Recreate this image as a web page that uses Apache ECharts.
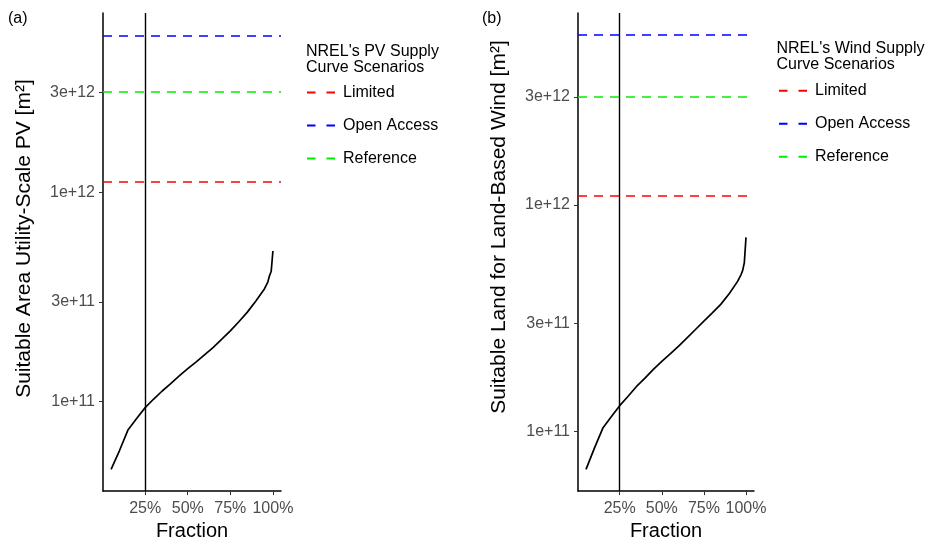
<!DOCTYPE html>
<html><head><meta charset="utf-8">
<script src="https://cdn.jsdelivr.net/npm/echarts@6/dist/echarts.min.js"></script>
<style>html,body{margin:0;padding:0;background:#fff}#c{width:936px;height:546px}</style>
</head><body><div id="c"></div>
<script>
// ---- data ----
const fractions = [0.05,0.10,0.15,0.20,0.25,0.30,0.35,0.40,0.45,0.50,0.55,0.60,0.65,0.70,0.75,0.80,0.85,0.90,0.95,0.97,0.98,0.99,1.00];
const pvArea = [4.75e10,5.86e10,7.35e10,8.32e10,9.37e10,1.03e11,1.125e11,1.22e11,1.33e11,1.44e11,1.55e11,1.68e11,1.82e11,1.99e11,2.18e11,2.41e11,2.68e11,3.03e11,3.46e11,3.73e11,4.0e11,4.2e11,5.25e11];
const windArea = [6.8e10,8.44e10,1.035e11,1.16e11,1.30e11,1.43e11,1.58e11,1.72e11,1.88e11,2.04e11,2.20e11,2.38e11,2.59e11,2.82e11,3.07e11,3.34e11,3.64e11,4.06e11,4.60e11,4.92e11,5.13e11,5.56e11,7.2e11];
const scenarioNames = ['Limited','Open Access','Reference'];
const pvScenarios = [1.115e12, 5.67e12, 3.0e12];
const windScenarios = [1.106e12, 5.65e12, 3.0e12];
const markerFraction = 0.25;
const xTickValues = [0.25, 0.5, 0.75, 1.0];
const yTickValues = [1e11, 3e11, 1e12, 3e12];
const panelLabels = ['(a)', '(b)'];
const yTitles = ['Suitable Area Utility-Scale PV [m²]', 'Suitable Land for Land-Based Wind [m²]'];
const legendTitles = ["NREL's PV Supply\nCurve Scenarios", "NREL's Wind Supply\nCurve Scenarios"];
const xTitle = 'Fraction';

// ---- helpers ----
const L = v => Math.log10(v);
function expand(lo, hi){ const r = hi - lo; return [lo - 0.05*r, hi + 0.05*r]; }
const scenarioColors = ['#ff0000', '#0000ff', '#00ee00'];
const dash = [9, 7];
const font = "'Liberation Sans', Arial, sans-serif";

const panels = [
  {vals: pvArea, sc: pvScenarios, grid:{left:103, top:13, width:178, height:484}, yPad:27,
   legend:{left:306, top:84.5}, ltitle:{left:306, top:43.7}, label:{left:8, top:11}},
  {vals: windArea, sc: windScenarios, grid:{left:578, top:13, width:176, height:484}, yPad:50,
   legend:{left:778, top:82.7}, ltitle:{left:776.5, top:40.3}, label:{left:482, top:11}}
];

const option = {
  animation: false,
  textStyle: {fontFamily: font},
  grid: [], xAxis: [], yAxis: [], series: [], legend: [], title: []
};

panels.forEach((p, i) => {
  const allLog = p.vals.map(L).concat(p.sc.map(L));
  const yr = expand(Math.min(...allLog), Math.max(...allLog));
  const xr = expand(Math.min(...fractions), Math.max(...fractions));
  option.grid.push(Object.assign({containLabel:false}, p.grid));
  option.xAxis.push({
    type:'value', gridIndex:i, min:xr[0], max:xr[1],
    name:xTitle, nameLocation:'middle', nameGap:28,
    nameTextStyle:{fontSize:20, color:'#000'},
    axisLine:{show:true, onZero:false, lineStyle:{color:'#000', width:1.5}},
    axisTick:{show:true, length:4, lineStyle:{color:'#333', width:1}, customValues:xTickValues},
    axisLabel:{customValues:xTickValues, formatter:v => Math.round(v*100)+'%', color:'#4d4d4d', fontSize:16, margin:9},
    splitLine:{show:false}
  });
  const yT = yTickValues.map(L);
  option.yAxis.push({
    type:'value', gridIndex:i, min:yr[0], max:yr[1],
    name:yTitles[i], nameLocation:'middle', nameGap:68, nameRotate:90,
    nameTextStyle:{fontSize:21, color:'#000', padding:[0,0,0,p.yPad]},
    axisLine:{show:true, onZero:false, lineStyle:{color:'#000', width:1.5}},
    axisTick:{show:true, length:4, lineStyle:{color:'#333', width:1}, customValues:yT},
    axisLabel:{customValues:yT, formatter:v => Math.pow(10, v).toExponential(0), color:'#4d4d4d', fontSize:16, margin:8},
    splitLine:{show:false}
  });
  option.series.push({
    type:'line', xAxisIndex:i, yAxisIndex:i, silent:true, z:3,
    data: fractions.map((f, k) => [f, L(p.vals[k])]),
    symbol:'none', itemStyle:{color:'#000'}, lineStyle:{color:'#000', width:1.7},
    markLine:{silent:true, symbol:'none', label:{show:false}, animation:false,
      lineStyle:{color:'#000', width:1.4, type:'solid'},
      data:[{xAxis: markerFraction}]}
  });
  scenarioNames.forEach((nm, k) => {
    option.series.push({
      type:'line', name:nm, xAxisIndex:i, yAxisIndex:i, data:[], symbol:'none', silent:true,
      itemStyle:{color:scenarioColors[k]},
      lineStyle:{color:scenarioColors[k], width:1.6, type:dash},
      markLine:{silent:true, symbol:'none', label:{show:false}, animation:false,
        lineStyle:{color:scenarioColors[k], width:1.6, type:dash},
        data:[{yAxis: L(p.sc[k])}]}
    });
  });
  option.legend.push({
    left:p.legend.left, top:p.legend.top, orient:'vertical', padding:0,
    itemWidth:28, itemHeight:16, itemGap:17, selectedMode:false,
    data:scenarioNames, lineStyle:{type:[8.5, 11]},
    itemStyle:{opacity:0, borderWidth:0},
    textStyle:{fontSize:16, color:'#000', lineHeight:16, padding:[0,0,0,3]}
  });
  option.title.push({text:panelLabels[i], left:p.label.left, top:p.label.top, padding:0,
    textStyle:{fontSize:16, fontWeight:'normal', color:'#000', fontFamily:font}});
  option.title.push({text:legendTitles[i], left:p.ltitle.left, top:p.ltitle.top, padding:0,
    textStyle:{fontSize:16, lineHeight:16, fontWeight:'normal', color:'#000', fontFamily:font}});
});

const chart = echarts.init(document.getElementById('c'), null, {renderer:'canvas'});
chart.setOption(option);
</script>
</body></html>
